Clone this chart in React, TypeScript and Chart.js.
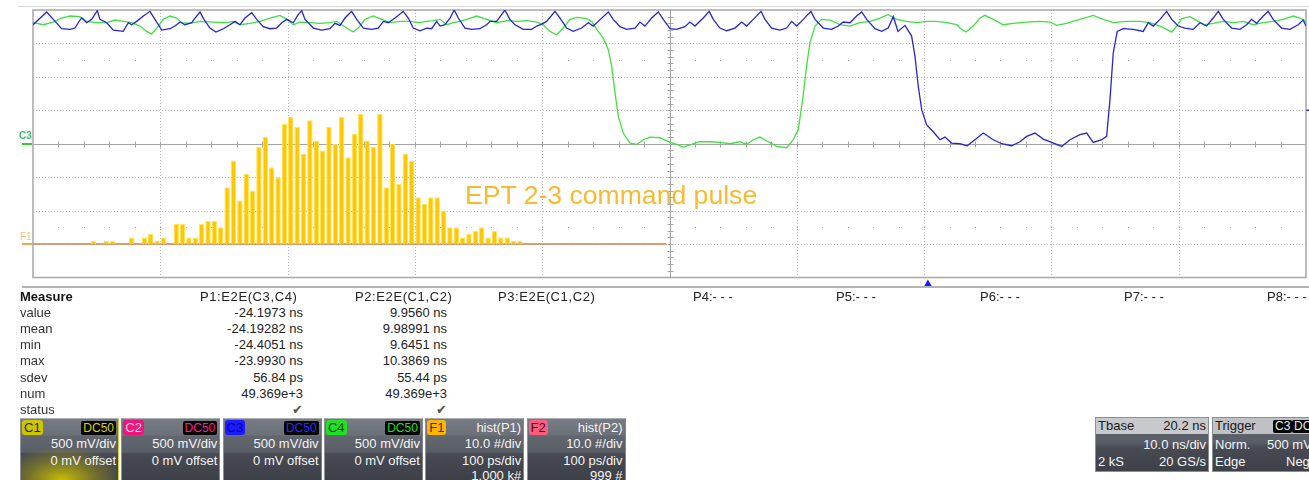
import React, { useEffect, useRef } from "react";
import { Chart, registerables } from "chart.js";

Chart.register(...registerables);

// ---------- graticule ticks (10 ns/div, 500 mV/div) ----------
const timeGridNs = [0, 10, 20, 30, 40, 50, 60, 70, 80, 90, 100];
const voltGrid = [-2, -1.5, -1, -0.5, 0, 0.5, 1, 1.5, 2];

// ---------- C3 (blue) trace: [time ns, volts] ----------
const c3Wave: [number, number][] = [
  [0, 1.78], [1.08, 1.97], [1.59, 1.86], [2.25, 1.72], [2.91, 1.71], [3.3, 1.73], [3.69, 1.85], [3.83, 1.88], [4.22, 1.81], [4.61, 1.86],
  [5.05, 1.99], [5.26, 1.86], [5.79, 1.81], [6.31, 1.7], [7.09, 1.68], [7.49, 1.81], [7.75, 1.78], [8.14, 1.83], [8.67, 1.91], [9.19, 1.98],
  [9.58, 1.86], [10.11, 1.7], [10.76, 1.72], [11.15, 1.76], [11.55, 1.82], [11.94, 1.78], [12.47, 1.81], [12.73, 1.88], [13.12, 1.97], [13.43, 1.86],
  [13.9, 1.73], [14.37, 1.67], [14.95, 1.72], [15.47, 1.78], [15.87, 1.83], [16.26, 1.78], [16.65, 1.88], [17.18, 1.96], [17.57, 1.86], [18.09, 1.75],
  [18.62, 1.72], [19.14, 1.73], [19.54, 1.81], [19.93, 1.86], [20.45, 1.81], [20.79, 1.92], [21.11, 1.99], [21.37, 1.86], [22.02, 1.73], [22.68, 1.7],
  [23.33, 1.72], [23.72, 1.8], [24.12, 1.77], [24.51, 1.88], [25.03, 1.98], [25.43, 1.86], [25.95, 1.73], [26.6, 1.71], [27.12, 1.73], [27.52, 1.83],
  [27.91, 1.81], [28.44, 1.88], [29.09, 1.98], [29.48, 1.88], [29.87, 1.73], [30.4, 1.69], [30.93, 1.73], [31.32, 1.72], [31.71, 1.83], [31.98, 1.76],
  [32.36, 1.78], [32.76, 1.88], [33.09, 2.0], [33.41, 1.88], [33.93, 1.73], [34.46, 1.71], [35.11, 1.72], [35.64, 1.78], [35.9, 1.83], [36.42, 1.83],
  [37.07, 2.0], [37.46, 1.86], [37.86, 1.78], [38.51, 1.71], [39.17, 1.71], [39.57, 1.76], [39.96, 1.79], [40.35, 1.83], [41.0, 1.98], [41.4, 1.88],
  [41.92, 1.73], [42.44, 1.68], [43.1, 1.73], [43.62, 1.81], [44.01, 1.76], [44.4, 1.83], [45.19, 1.97], [45.58, 1.86], [46.11, 1.75], [46.64, 1.71],
  [47.29, 1.73], [47.68, 1.82], [48.07, 1.76], [48.6, 1.88], [49.12, 1.97], [49.51, 1.86], [50.04, 1.72], [50.56, 1.71], [51.21, 1.75], [51.61, 1.82],
  [52.0, 1.76], [52.65, 1.88], [53.12, 1.98], [53.44, 1.86], [53.96, 1.73], [54.49, 1.69], [55.14, 1.73], [55.67, 1.82], [56.06, 1.76], [56.58, 1.86],
  [57.19, 1.98], [57.5, 1.86], [58.03, 1.73], [58.68, 1.7], [59.2, 1.73], [59.6, 1.83], [59.99, 1.76], [60.51, 1.86], [61.11, 1.98], [61.43, 1.86],
  [62.08, 1.73], [62.74, 1.71], [63.26, 1.76], [63.65, 1.82], [64.18, 1.81], [64.7, 1.91], [65.1, 1.97], [65.49, 1.86], [66.14, 1.72], [66.67, 1.68],
  [67.18, 1.73], [67.58, 1.9], [67.95, 1.68], [68.5, 1.77], [69.02, 1.61], [69.28, 1.31], [69.54, 0.86], [69.81, 0.51], [70.2, 0.28], [70.72, 0.18],
  [71.25, 0.06], [71.64, 0.1], [72.16, 0.01], [72.82, 0.0], [73.39, -0.03], [73.99, 0.06], [74.65, 0.16], [75.43, 0.06], [76.09, 0.0], [76.88, -0.03],
  [77.53, 0.03], [78.05, 0.11], [78.71, 0.16], [79.36, 0.07], [80.02, 0.02], [80.81, -0.04], [81.46, 0.06], [82.24, 0.135], [82.77, 0.16], [83.29, 0.02],
  [83.95, 0.06], [84.34, 0.11], [84.6, 0.66], [84.86, 1.36], [85.17, 1.68], [85.64, 1.72], [86.43, 1.71], [87.21, 1.68], [87.61, 1.81], [88.0, 1.76],
  [88.53, 1.86], [89.05, 1.98], [89.45, 1.86], [89.96, 1.76], [90.49, 1.73], [91.14, 1.71], [91.67, 1.81], [92.19, 1.76], [92.71, 1.88], [93.11, 1.98],
  [93.5, 1.86], [94.16, 1.73], [94.81, 1.71], [95.34, 1.78], [95.73, 1.86], [96.12, 1.8], [96.64, 1.91], [97.03, 1.98], [97.42, 1.86], [98.08, 1.73],
  [98.73, 1.71], [99.39, 1.78], [99.78, 1.85], [100, 1.76],
];

// ---------- C4 (green) trace: [time ns, volts] ----------
const c4Wave: [number, number][] = [
  [0, 1.81], [0.81, 1.78], [1.59, 1.82], [2.25, 1.88], [2.91, 1.91], [3.69, 1.9], [4.22, 1.83], [5.0, 1.81], [5.79, 1.81], [6.44, 1.85],
  [7.09, 1.83], [7.75, 1.81], [8.4, 1.76], [8.93, 1.68], [9.32, 1.64], [9.72, 1.73], [10.24, 1.86], [10.76, 1.91], [11.29, 1.88], [11.68, 1.81],
  [12.33, 1.8], [13.12, 1.83], [14.16, 1.82], [15.22, 1.81], [15.73, 1.83], [16.26, 1.78], [17.05, 1.8], [17.83, 1.83], [18.62, 1.88], [19.4, 1.92],
  [19.93, 1.86], [20.45, 1.78], [20.97, 1.82], [21.76, 1.81], [22.54, 1.8], [23.33, 1.81], [23.86, 1.83], [24.64, 1.73], [25.16, 1.67], [25.55, 1.73],
  [26.08, 1.86], [26.73, 1.91], [27.39, 1.86], [28.04, 1.81], [28.83, 1.83], [29.61, 1.83], [30.4, 1.81], [30.93, 1.83], [31.44, 1.84], [31.98, 1.86],
  [32.5, 1.78], [33.02, 1.81], [33.54, 1.83], [34.07, 1.86], [34.85, 1.91], [35.64, 1.86], [36.42, 1.81], [37.21, 1.84], [38.0, 1.83], [38.78, 1.84],
  [39.57, 1.82], [40.08, 1.78], [40.61, 1.68], [41.14, 1.63], [41.65, 1.73], [42.18, 1.86], [42.71, 1.89], [43.49, 1.87], [43.89, 1.83], [44.28, 1.71],
  [44.8, 1.58], [45.19, 1.41], [45.46, 1.16], [45.72, 0.76], [45.98, 0.41], [46.37, 0.16], [46.9, 0.01], [47.42, -0.01], [47.94, 0.06], [48.47, 0.1],
  [49.25, 0.09], [50.04, 0.02], [50.56, -0.01], [51.08, -0.05], [51.74, -0.01], [52.39, 0.03], [53.18, 0.03], [53.96, 0.02], [54.75, 0.0], [55.54, 0.03],
  [56.06, -0.01], [56.58, 0.06], [57.11, 0.1], [57.76, 0.03], [58.42, -0.04], [59.2, -0.06], [59.72, 0.06], [60.11, 0.21], [60.46, 0.66], [60.77, 1.16],
  [61.03, 1.51], [61.43, 1.76], [61.95, 1.86], [62.61, 1.85], [63.39, 1.78], [64.18, 1.76], [64.96, 1.81], [65.75, 1.83], [66.53, 1.88], [67.18, 1.93],
  [67.84, 1.86], [68.63, 1.83], [69.41, 1.81], [70.2, 1.83], [70.99, 1.83], [71.77, 1.81], [72.56, 1.78], [72.95, 1.71], [73.29, 1.67], [73.86, 1.76],
  [74.39, 1.88], [74.78, 1.92], [75.43, 1.86], [76.22, 1.78], [77.0, 1.8], [78.05, 1.82], [79.1, 1.83], [79.88, 1.82], [80.41, 1.77], [81.19, 1.8],
  [82.24, 1.86], [83.29, 1.92], [84.07, 1.86], [84.86, 1.81], [85.91, 1.83], [86.95, 1.83], [87.74, 1.81], [88.53, 1.76], [89.05, 1.71], [89.45, 1.67],
  [89.84, 1.76], [90.23, 1.87], [90.88, 1.9], [91.54, 1.83], [92.06, 1.78], [92.71, 1.8], [93.5, 1.83], [94.29, 1.81], [95.07, 1.83], [95.86, 1.78],
  [96.64, 1.81], [97.42, 1.83], [98.21, 1.86], [99.0, 1.91], [99.52, 1.88], [100, 1.83],
];

// ---------- F1 = hist(P1): counts per 5 ps bin (10 #/div, 100 ps/div) ----------
const f1Counts = [
  0, 0, 0, 0, 0, 0, 0, 0, 0, 1,
  0, 1, 1, 0, 0, 2, 0, 2, 3, 1,
  2, 0, 6, 6, 2, 2, 6, 7, 7, 5,
  17, 25, 13, 21, 16, 29, 32, 23, 20, 36,
  38, 35, 27, 37, 31, 28, 35, 30, 38, 26,
  33, 39, 31, 29, 39, 17, 30, 18, 27, 25,
  14, 12, 14, 14, 10, 5, 5, 2, 3, 4,
  5, 2, 4, 2, 2, 1, 1, 0, 0, 0,
  0, 0, 0, 0, 0, 0, 0, 0, 0, 0,
  0, 0, 0, 0, 0, 0, 0, 0, 0, 0,
];
const f1BinStartPs = 0;
const f1BinWidthPs = 5;

const triggerTimeNs = 70.3;
const triggerLevelV = 0.5;

// ---------- measurement table ----------
const measureLabels = ["value", "mean", "min", "max", "sdev", "num", "status"];
const p1Values = ["-24.1973 ns", "-24.19282 ns", "-24.4051 ns", "-23.9930 ns", "56.84 ps", "49.369e+3", "\u2714"];
const p2Values = ["9.9560 ns", "9.98991 ns", "9.6451 ns", "10.3869 ns", "55.44 ps", "49.369e+3", "\u2714"];
const paramHeaders = ["P1:E2E(C3,C4)", "P2:E2E(C1,C2)", "P3:E2E(C1,C2)", "P4:- - -", "P5:- - -", "P6:- - -", "P7:- - -", "P8:- - -"];

// ---------- channel descriptor boxes ----------
const channelNames = ["C1", "C2", "C3", "C4", "F1", "F2"];
const channelTags = ["DC50", "DC50", "DC50", "DC50", "hist(P1)", "hist(P2)"];
const channelLine1 = ["500 mV/div", "500 mV/div", "500 mV/div", "500 mV/div", "10.0 #/div", "10.0 #/div"];
const channelLine2 = ["0 mV offset", "0 mV offset", "0 mV offset", "0 mV offset", "100 ps/div", "100 ps/div"];
const channelLine3 = ["", "", "", "", "1.000 k#", "999 #"];

const FONT = "'Liberation Sans', Arial, sans-serif";
const headerX = [200, 355, 498, 693, 836, 980, 1124, 1267];
const valueRight = [303, 447];
const badgeBg = ["#cfc400", "#f0157c", "#1c1cff", "#22e022", "#ffb400", "#ff5b7c"];
const badgeFg = ["#2c2a00", "#ffd0e4", "#0000a0", "#004a00", "#4a3000", "#4a0a18"];
const tagFg = ["#d8d000", "#ff1a8c", "#2a2aff", "#22dd22"];

const graticule = {
  id: "graticule",
  beforeDatasetsDraw(chart: any) {
    const { ctx, chartArea: a, scales } = chart;
    const sx = scales.x;
    const sy = scales.y;
    const cx = Math.round(sx.getPixelForValue(50)) + 0.5;
    const cy = Math.round(sy.getPixelForValue(0)) + 0.5;
    ctx.save();
    ctx.lineWidth = 1;
    ctx.strokeStyle = "#b8b8b8";
    ctx.setLineDash([1, 2]);
    for (const t of timeGridNs) {
      if (t === 50 || t === 0 || t === 100) continue;
      const px = Math.round(sx.getPixelForValue(t)) + 0.5;
      ctx.beginPath(); ctx.moveTo(px, a.top); ctx.lineTo(px, a.bottom); ctx.stroke();
    }
    for (const v of voltGrid) {
      if (v === 0 || v === 2 || v === -2) continue;
      const py = Math.round(sy.getPixelForValue(v)) + 0.5;
      ctx.beginPath(); ctx.moveTo(a.left, py); ctx.lineTo(a.right, py); ctx.stroke();
    }
    ctx.setLineDash([]);
    ctx.strokeStyle = "#a4a4a4";
    ctx.beginPath(); ctx.moveTo(a.left, cy); ctx.lineTo(a.right, cy); ctx.stroke();
    ctx.beginPath(); ctx.moveTo(cx, a.top); ctx.lineTo(cx, a.bottom); ctx.stroke();
    // minor ticks on the centre lines (1/5 div)
    for (let k = 1; k < 50; k++) {
      const px = Math.round(sx.getPixelForValue(k * 2)) + 0.5;
      ctx.beginPath(); ctx.moveTo(px, cy - 3); ctx.lineTo(px, cy + 3); ctx.stroke();
    }
    for (let k = 1; k < 40; k++) {
      const py = Math.round(sy.getPixelForValue(-2 + k * 0.1)) + 0.5;
      ctx.beginPath(); ctx.moveTo(cx - 3, py); ctx.lineTo(cx + 3, py); ctx.stroke();
    }
    // dot rows
    ctx.fillStyle = "#a8a8a8";
    for (const v of [1.25, -1.25]) {
      const py = Math.round(sy.getPixelForValue(v));
      for (let k = 1; k < 50; k++) {
        const px = Math.round(sx.getPixelForValue(k * 2));
        ctx.fillRect(px, py, 1, 1);
      }
    }
    // frame
    ctx.strokeStyle = "#a6a6a6";
    ctx.lineWidth = 1.5;
    ctx.strokeRect(a.left, a.top, a.right - a.left, a.bottom - a.top);
    ctx.restore();
  },
  afterDraw(chart: any) {
    const { ctx, chartArea: a, scales } = chart;
    const tx = scales.x.getPixelForValue(triggerTimeNs);
    const ty = scales.y.getPixelForValue(triggerLevelV);
    ctx.save();
    ctx.fillStyle = "#1a1aff";
    ctx.beginPath();
    ctx.moveTo(tx, a.bottom + 2);
    ctx.lineTo(tx - 4, a.bottom + 9);
    ctx.lineTo(tx + 4, a.bottom + 9);
    ctx.closePath();
    ctx.fill();
    ctx.strokeStyle = "#1a1aff";
    ctx.lineWidth = 1.5;
    ctx.beginPath(); ctx.moveTo(a.right + 0.5, ty); ctx.lineTo(a.right + 4, ty); ctx.stroke();
    ctx.restore();
  },
};

function ScopeChart() {
  const ref = useRef<HTMLCanvasElement | null>(null);
  useEffect(() => {
    if (!ref.current) return;
    const chart = new Chart(ref.current, {
      type: "line",
      data: {
        datasets: [
          {
            type: "line",
            label: "C3",
            data: c3Wave.map(([t, v]) => ({ x: t, y: v })),
            xAxisID: "x",
            yAxisID: "y",
            borderColor: "#2525d6",
            borderWidth: 1.3,
            pointRadius: 0,
            tension: 0,
            order: 0,
          },
          {
            type: "line",
            label: "C4",
            data: c4Wave.map(([t, v]) => ({ x: t, y: v })),
            xAxisID: "x",
            yAxisID: "y",
            borderColor: "#40e040",
            borderWidth: 1.3,
            pointRadius: 0,
            tension: 0,
            order: 1,
          },
          {
            type: "bar",
            label: "F1",
            data: f1Counts.map((c, i) => ({ x: f1BinStartPs + (i + 0.5) * f1BinWidthPs, y: c })),
            xAxisID: "xh",
            yAxisID: "yh",
            backgroundColor: "#ffc700",
            borderColor: "#ffe45a",
            borderWidth: 1,
            barPercentage: 0.86,
            categoryPercentage: 1,
            grouped: false,
            order: 2,
          } as any,
          {
            type: "line",
            label: "F1 base",
            data: [
              { x: f1BinStartPs, y: 0 },
              { x: f1BinStartPs + (f1Counts.length - 0.5) * f1BinWidthPs, y: 0 },
            ],
            xAxisID: "xh",
            yAxisID: "yh",
            borderColor: "#c8844c",
            borderWidth: 1.5,
            pointRadius: 0,
            order: 3,
          },
        ],
      },
      options: {
        responsive: false,
        animation: false,
        devicePixelRatio: 1,
        events: [],
        layout: { padding: { left: 33, top: 10, right: 3, bottom: 12.5 } },
        scales: {
          x: { type: "linear", min: 0, max: 100, display: false, offset: false },
          y: { type: "linear", min: -2, max: 2, display: false },
          xh: { type: "linear", min: 0, max: 1000, display: false, offset: false, grid: { offset: false } },
          yh: { type: "linear", min: -10, max: 70, display: false },
        },
        plugins: { legend: { display: false }, tooltip: { enabled: false } },
      },
      plugins: [graticule],
    } as any);
    return () => chart.destroy();
  }, []);
  return <canvas ref={ref} width={1309} height={290} style={{ position: "absolute", left: 0, top: 0 }} />;
}

const abs = (s: React.CSSProperties): React.CSSProperties => ({ position: "absolute", ...s });

function ChannelBox({ i }: { i: number }) {
  const left = 20 + i * 101.3;
  const isFn = i >= 4;
  return (
    <div
      style={abs({
        left,
        top: 418,
        width: 99,
        height: 62,
        overflow: "hidden",
        background:
          "linear-gradient(#777b84 0px, #6c7079 16px, #62666f 17px, #5a5e67 33px, #474a52 35px, #3d4047 62px)",
        borderTop: "1px solid #a9adb4",
        borderLeft: "1px solid #8c9098",
        borderRight: i === 0 ? "1px solid #d8cf30" : "1px solid #80848c",
        boxSizing: "border-box",
        fontFamily: FONT,
        fontSize: 13,
        color: "#f4f4f4",
      })}
    >
      {i === 0 && (
        <div
          style={abs({
            left: 0,
            top: 0,
            right: 0,
            bottom: 0,
            background:
              "radial-gradient(ellipse 62px 34px at 42% 100%, rgba(205,195,0,0.95) 0%, rgba(160,150,20,0.55) 55%, rgba(100,100,60,0) 100%)",
          })}
        />
      )}
      <div
        style={abs({
          left: 1,
          top: 1,
          height: 15,
          padding: "0 2px",
          background: badgeBg[i],
          color: badgeFg[i],
          borderRadius: 3,
          lineHeight: "15px",
          fontSize: 13,
        })}
      >
        {channelNames[i]}
      </div>
      {isFn ? (
        <div style={abs({ right: 2, top: 1, lineHeight: "15px", color: "#f2f2f2" })}>{channelTags[i]}</div>
      ) : (
        <div
          style={abs({
            right: 2,
            top: 2,
            height: 14,
            padding: "0 2px",
            background: "#050505",
            color: tagFg[i],
            borderRadius: 2,
            lineHeight: "14px",
            fontSize: 12,
          })}
        >
          {channelTags[i]}
        </div>
      )}
      <div style={abs({ right: 2, top: 17, lineHeight: "16px" })}>{channelLine1[i]}</div>
      <div style={abs({ right: 2, top: 34, lineHeight: "16px" })}>{channelLine2[i]}</div>
      {channelLine3[i] && <div style={abs({ right: 2, top: 49, lineHeight: "16px" })}>{channelLine3[i]}</div>}
    </div>
  );
}

export default function App() {
  const rowTop = (r: number) => 289 + r * 16.1;
  return (
    <div
      style={abs({
        left: 0,
        top: 0,
        width: 1309,
        height: 480,
        overflow: "hidden",
        background: "#ffffff",
        fontFamily: FONT,
      })}
    >
      <div style={abs({ left: 18, top: 6, width: 1291, height: 1, background: "#d6d6d6" })} />
      <ScopeChart />
      {/* channel reference labels */}
      <div style={abs({ left: 19, top: 130, fontSize: 10, lineHeight: "11px", color: "#3cc070", fontWeight: "bold" })}>C3</div>
      <div style={abs({ left: 22, top: 142.5, width: 10, height: 2, background: "#2fd02f" })} />
      <div style={abs({ left: 20, top: 231, fontSize: 10, lineHeight: "11px", color: "#f6c27c" })}>F1</div>
      <div style={abs({ left: 22, top: 243, width: 10, height: 2, background: "#f0a848" })} />
      <div style={abs({ left: 465, top: 182, fontSize: 26.6, lineHeight: "26px", color: "#f9ba30", whiteSpace: "nowrap" })}>
        EPT 2-3 command pulse
      </div>
      <div style={abs({ left: 22, top: 286, width: 1287, height: 2, background: "#b4b4b4" })} />
      {/* measurement table */}
      <div style={abs({ left: 20, top: rowTop(0), fontSize: 13, lineHeight: "16px", fontWeight: "bold", color: "#111" })}>Measure</div>
      {paramHeaders.map((h, k) => (
        <div key={h + k} style={abs({ left: headerX[k], top: rowTop(0), fontSize: 13, lineHeight: "16px", color: "#222", whiteSpace: "nowrap", letterSpacing: k < 3 ? 0.6 : 0 })}>
          {h}
        </div>
      ))}
      {measureLabels.map((m, r) => (
        <div key={m} style={abs({ left: 20, top: rowTop(r + 1), fontSize: 13, lineHeight: "16px", color: "#333" })}>
          {m}
        </div>
      ))}
      {[p1Values, p2Values].map((vals, c) =>
        vals.map((v, r) => (
          <div
            key={c + "-" + r}
            style={abs({
              left: valueRight[c] - 150,
              width: 150,
              textAlign: "right",
              top: rowTop(r + 1),
              fontSize: 13,
              lineHeight: "16px",
              color: r === 6 ? "#555" : "#222",
              fontFamily: r === 6 ? "'DejaVu Sans', sans-serif" : FONT,
            })}
          >
            {v}
          </div>
        ))
      )}
      {/* descriptor boxes */}
      {channelNames.map((_, i) => (
        <ChannelBox key={i} i={i} />
      ))}
      {/* timebase box */}
      <div
        style={abs({
          left: 1095,
          top: 417,
          width: 114,
          height: 55,
          background: "linear-gradient(#62666e 0px, #5a5e66 24px, #474a52 30px, #3d4047 55px)",
          border: "1px solid #8a8e95",
          boxSizing: "border-box",
          fontSize: 13,
          color: "#f4f4f4",
          overflow: "hidden",
        })}
      >
        <div style={abs({ left: 0, top: 0, right: 0, height: 16, background: "#c8c9cc" })} />
        <div style={abs({ left: 2, top: 0, lineHeight: "16px", color: "#1a1a1a" })}>Tbase</div>
        <div style={abs({ right: 2, top: 0, lineHeight: "16px", color: "#1a1a1a" })}>20.2 ns</div>
        <div style={abs({ right: 2, top: 19, lineHeight: "16px" })}>10.0 ns/div</div>
        <div style={abs({ left: 2, top: 36, lineHeight: "16px" })}>2 kS</div>
        <div style={abs({ right: 2, top: 36, lineHeight: "16px" })}>20 GS/s</div>
      </div>
      {/* trigger box */}
      <div
        style={abs({
          left: 1212,
          top: 417,
          width: 110,
          height: 55,
          background: "linear-gradient(#62666e 0px, #5a5e66 24px, #474a52 30px, #3d4047 55px)",
          border: "1px solid #8a8e95",
          boxSizing: "border-box",
          fontSize: 13,
          color: "#f4f4f4",
          overflow: "hidden",
        })}
      >
        <div style={abs({ left: 0, top: 0, right: 0, height: 16, background: "#bfc1c5" })} />
        <div style={abs({ left: 2, top: 0, lineHeight: "16px", color: "#1a1a1a" })}>Trigger</div>
        <div style={abs({ left: 60, top: 2, height: 13, padding: "0 2px", lineHeight: "13px", fontSize: 12, background: "#050505", color: "#e8e8e8", borderRadius: 2 })}>C3</div>
        <div style={abs({ left: 79, top: 2, height: 13, padding: "0 2px", lineHeight: "13px", fontSize: 12, background: "#050505", color: "#e8e8e8", borderRadius: 2 })}>DC</div>
        <div style={abs({ left: 2, top: 19, lineHeight: "16px" })}>Norm.</div>
        <div style={abs({ left: 54, top: 19, lineHeight: "16px", whiteSpace: "nowrap" })}>500 mV</div>
        <div style={abs({ left: 2, top: 36, lineHeight: "16px" })}>Edge</div>
        <div style={abs({ left: 73, top: 36, lineHeight: "16px" })}>Neg</div>
      </div>
    </div>
  );
}
